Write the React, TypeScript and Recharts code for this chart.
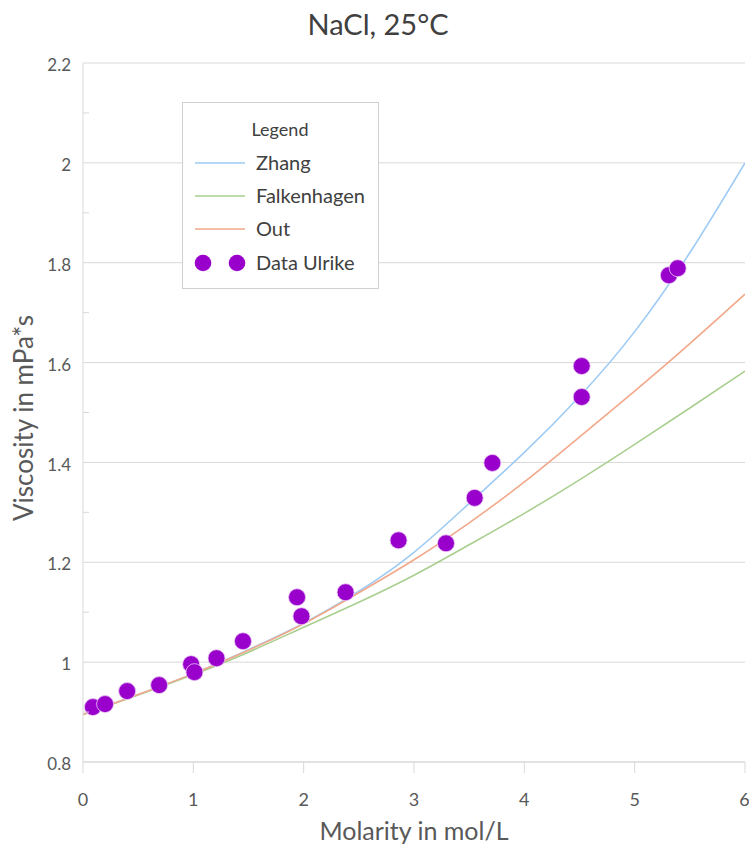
import React from "react";
import { ComposedChart, Line, Scatter, XAxis, YAxis, CartesianGrid } from "recharts";

const curveX = [0, 0.5, 1, 1.5, 2, 2.5, 3, 3.5, 4, 4.5, 5, 5.5, 6];
const zhangY = [0.895, 0.935, 0.977, 1.025, 1.078, 1.142, 1.22, 1.318, 1.42, 1.532, 1.662, 1.82, 2.0];
const falkenhagenY = [0.895, 0.934, 0.975, 1.02, 1.07, 1.12, 1.174, 1.235, 1.298, 1.365, 1.436, 1.509, 1.583];
const outY = [0.895, 0.935, 0.977, 1.024, 1.077, 1.139, 1.205, 1.279, 1.361, 1.451, 1.543, 1.638, 1.737];

const dataX = [0.09, 0.2, 0.4, 0.69, 0.98, 1.01, 1.21, 1.45, 1.94, 1.98, 2.38, 2.86, 3.29, 3.55, 3.71, 4.52, 4.52, 5.31, 5.39];
const dataY = [0.91, 0.916, 0.942, 0.954, 0.996, 0.98, 1.008, 1.042, 1.13, 1.092, 1.14, 1.244, 1.238, 1.329, 1.399, 1.593, 1.531, 1.775, 1.789];

const xTicks = [0, 1, 2, 3, 4, 5, 6];
const yMajorTicks = [0.8, 1.0, 1.2, 1.4, 1.6, 1.8, 2.0, 2.2];
const yAllTicks = [0.8, 0.9, 1.0, 1.1, 1.2, 1.3, 1.4, 1.5, 1.6, 1.7, 1.8, 1.9, 2.0, 2.1, 2.2];

const seriesNames = ["Zhang", "Falkenhagen", "Out", "Data Ulrike"];
const seriesColors = ["#9dcbf5", "#a9cf8f", "#f2a88a", "#9900cc"];

const titleText = "NaCl, 25°C";
const xLabelText = "Molarity in mol/L";
const yLabelText = "Viscosity in mPa*s";

const FONT = "Lato, 'Open Sans', sans-serif";
const TXT = "#595959";
const AXIS = "#d9d9d9";

const zhang = curveX.map((x, i) => ({ x, y: zhangY[i] }));
const falk = curveX.map((x, i) => ({ x, y: falkenhagenY[i] }));
const out = curveX.map((x, i) => ({ x, y: outY[i] }));
const pts = dataX.map((x, i) => ({ x, y: dataY[i] }));

const isMajor = (v: number) => yMajorTicks.some((m) => Math.abs(m - v) < 1e-6);

const YTick = (props: any) => {
  const { x, y, payload } = props;
  const v = payload.value as number;
  if (isMajor(v)) {
    return (
      <text x={x - 12} y={y + 2} dy="0.36em" textAnchor="end" fill={TXT} fontSize={17} fontFamily={FONT}>
        {String(Number(v.toFixed(1)))}
      </text>
    );
  }
  return <line x1={x} x2={x + 6} y1={y} y2={y} stroke={AXIS} strokeWidth={1} />;
};

const Dot = (props: any) => {
  const { cx, cy } = props;
  return <circle cx={cx} cy={cy} r={8.5} fill="#9900cc" stroke="#e9c9f2" strokeWidth={0.8} />;
};

const rowY = [163, 196, 229, 263];

export default function App() {
  return (
    <div style={{ position: "absolute", left: 0, top: 0, width: 749, height: 847, background: "#fff" }}>
      <ComposedChart width={749} height={847} margin={{ top: 63, right: 4, bottom: 55, left: 0 }}>
        <CartesianGrid horizontal={true} vertical={false} stroke={AXIS} horizontalValues={yMajorTicks} />
        <XAxis
          type="number"
          dataKey="x"
          domain={[0, 6]}
          ticks={xTicks}
          allowDataOverflow
          height={30}
          stroke={AXIS}
          tickSize={11}
          tickMargin={20}
          tick={{ fill: TXT, fontSize: 18, fontFamily: FONT }}
        />
        <YAxis
          type="number"
          dataKey="y"
          domain={[0.8, 2.2]}
          ticks={yAllTicks}
          allowDataOverflow
          width={83}
          stroke={AXIS}
          tickLine={false}
          tickSize={0}
          tickMargin={0}
          tick={<YTick />}
          interval={0}
        />
        <Line name={seriesNames[0]} data={zhang} dataKey="y" type="natural" stroke={seriesColors[0]} strokeWidth={1.6} dot={false} isAnimationActive={false} />
        <Line name={seriesNames[1]} data={falk} dataKey="y" type="natural" stroke={seriesColors[1]} strokeWidth={1.6} dot={false} isAnimationActive={false} />
        <Line name={seriesNames[2]} data={out} dataKey="y" type="natural" stroke={seriesColors[2]} strokeWidth={1.6} dot={false} isAnimationActive={false} />
        <Scatter name={seriesNames[3]} data={pts} dataKey="y" fill={seriesColors[3]} shape={<Dot />} isAnimationActive={false} />
      </ComposedChart>
      <svg width={749} height={847} style={{ position: "absolute", left: 0, top: 0, pointerEvents: "none" }}>
        <text x={378} y={35} textAnchor="middle" fontFamily={FONT} fontSize={29} fill="#404040">{titleText}</text>
        <text x={414} y={840} textAnchor="middle" fontFamily={FONT} fontSize={25} fill={TXT}>{xLabelText}</text>
        <text x={33} y={418} transform="rotate(-90 33 418)" textAnchor="middle" fontFamily={FONT} fontSize={26} fill={TXT}>{yLabelText}</text>
        <rect x={182.5} y={102.5} width={196} height={186} fill="#fff" stroke="#d0d0d0" strokeWidth={1} />
        <text x={280} y={136} textAnchor="middle" fontFamily={FONT} fontSize={18} fill="#404040">Legend</text>
        {seriesNames.map((n, i) => (
          <g key={n}>
            {i === 3 ? (
              <g>
                <circle cx={203} cy={rowY[i]} r={8.3} fill={seriesColors[i]} />
                <circle cx={237} cy={rowY[i]} r={8.3} fill={seriesColors[i]} />
              </g>
            ) : (
              <line x1={195} x2={245} y1={rowY[i]} y2={rowY[i]} stroke={seriesColors[i]} strokeWidth={1.6} />
            )}
            <text x={256} y={rowY[i] + 6.5} fontFamily={FONT} fontSize={20} fill="#404040">{n}</text>
          </g>
        ))}
      </svg>
    </div>
  );
}
